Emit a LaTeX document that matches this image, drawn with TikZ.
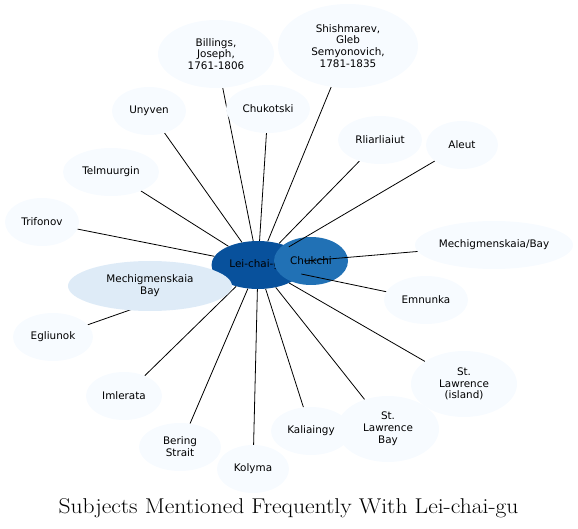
\documentclass[tikz,border=0pt]{standalone}
\usepackage{fontspec}
\usepackage{graphicx}
\usepackage{tikz}
\usetikzlibrary{shapes.geometric}
\newfontfamily\nodefont{DejaVu Sans}
\definecolor{leafblue}{HTML}{F7FBFF}
\definecolor{paleblue}{HTML}{DEEBF7}
\definecolor{midblue}{HTML}{2171B5}
\definecolor{darkblue}{HTML}{08519C}
\pgfdeclarelayer{background}
\pgfdeclarelayer{edgelayer}
\pgfsetlayers{background,edgelayer,main}

\begin{document}
\begin{tikzpicture}[x=1pt, y=-1pt,
		subject/.style={ellipse, fill=leafblue, inner sep=0pt, align=center,
			font=\nodefont\fontsize{10.4}{11.8}\selectfont,
			minimum width=84pt, minimum height=48pt},
		link/.style={black, line width=0.8pt}]
	
	\useasboundingbox (0,0) rectangle (578,529);
	
	% Centre
	\begin{pgfonlayer}{background}
		\node[subject, fill=darkblue, minimum width=93pt] (lei) at (258,265) {Lei-chai-gu};
		\node[subject, fill=midblue, minimum width=74pt] (chukchi) at (311,261) {Chukchi};
	\end{pgfonlayer}
	
	% Sujets
	\node[subject, minimum width=116pt, minimum height=68pt] (billings) at (216,54) {Billings,\\Joseph,\\1761-1806};
	\node[subject, minimum width=140pt, minimum height=84pt] (shishmarev) at (348,46) {Shishmarev,\\Gleb\\Semyonovich,\\1781-1835};
	\node[subject] (chukotski) at (268,109) {Chukotski};
	\node[subject, minimum width=74pt] (unyven) at (149,111) {Unyven};
	\node[subject, minimum width=96pt] (telmuurgin) at (111,172) {Telmuurgin};
	\node[subject, minimum width=74pt] (trifonov) at (42,222) {Trifonov};
	\node[subject] (rliarliaiut) at (380,140) {Rliarliaiut};
	\node[subject, minimum width=72pt] (aleut) at (462,145) {Aleut};
	\node[subject, minimum width=158pt] (mechslash) at (494,245) {Mechigmenskaia/Bay};
	\node[subject] (emnunka) at (426,300) {Emnunka};
	\node[subject, minimum width=106pt, minimum height=66pt] (stisland) at (464,384) {St.\\Lawrence\\(island)};
	\node[subject, minimum width=80pt] (kaliaingy) at (311,431) {Kaliaingy};
	\node[subject, minimum width=102pt, minimum height=66pt] (stbay) at (388,429) {St.\\Lawrence\\Bay};
	\node[subject, minimum width=72pt] (kolyma) at (253,469) {Kolyma};
	\node[subject, minimum width=82pt] (bering) at (180,447) {Bering\\Strait};
	\node[subject, minimum width=76pt] (imlerata) at (124,396) {Imlerata};
	\node[subject, minimum width=80pt] (egliunok) at (53,337) {Egliunok};
	\node[subject, fill=paleblue, minimum width=164pt, minimum height=50pt] (mechbay) at (150,286) {Mechigmenskaia\\Bay};
	
	% Liens
	\begin{pgfonlayer}{edgelayer}
		\foreach \s in {billings,shishmarev,chukotski,unyven,telmuurgin,trifonov,
			rliarliaiut,aleut,mechslash,emnunka,stisland,kaliaingy,stbay,
			kolyma,bering,imlerata,egliunok} {
			\draw[link] (lei) -- (\s);
		}
	\end{pgfonlayer}
	
	% Titre
	\node[anchor=base, font=\fontsize{21.4}{24}\selectfont] (title) at (288.5,513)
	{\scalebox{1.1}[1]{Subjects Mentioned Frequently With Lei-chai-gu}};
	
\end{tikzpicture}
\end{document}
